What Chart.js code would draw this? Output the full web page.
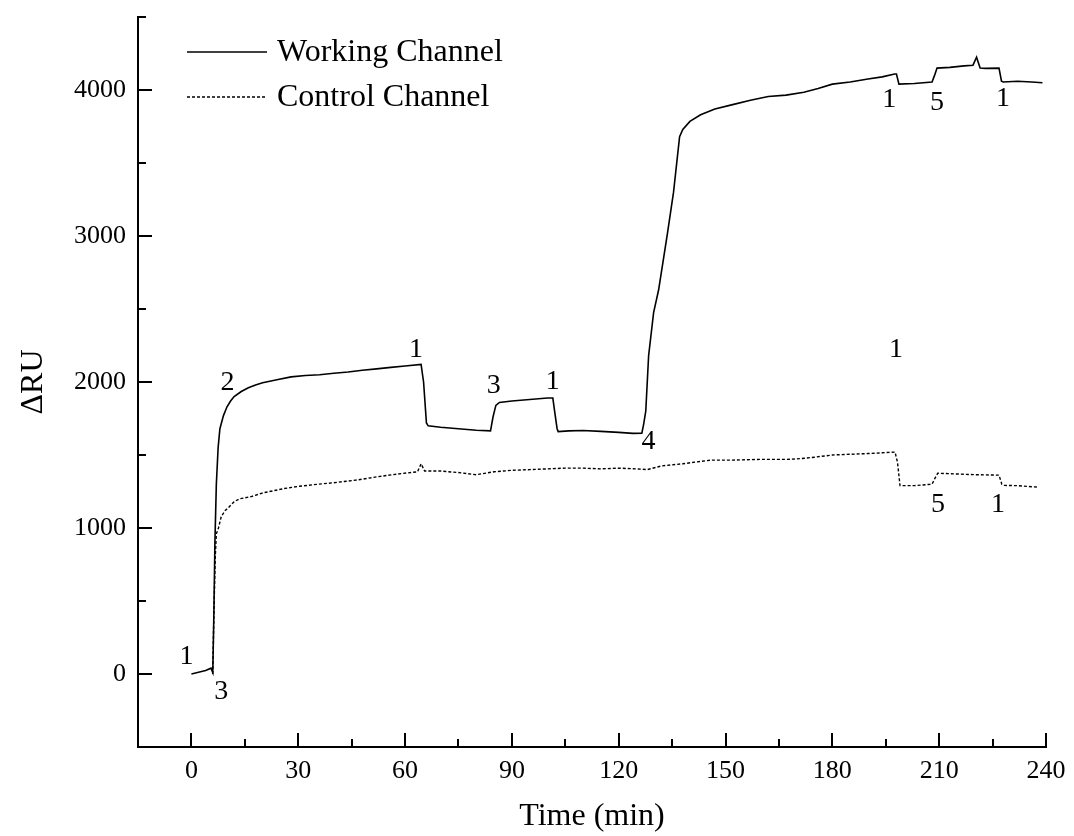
<!DOCTYPE html>
<html>
<head>
<meta charset="utf-8">
<title>Working vs Control Channel</title>
<script src="https://cdn.jsdelivr.net/npm/chart.js@4.4.0/dist/chart.umd.min.js"></script>
<style>
    html, body { margin: 0; padding: 0; background: #fff; }
    #chart { display: block; }
</style>
</head>
<body>
<canvas id="chart" width="1074" height="836"></canvas>
<script>
// time in minutes, response in RU
const workingTime = [0, 2, 4, 5.5, 6, 6.3, 6.6, 7, 7.5, 8, 9, 10, 11, 12, 14, 16, 18, 20, 24, 28, 32, 36, 40, 44, 48, 52, 56, 60, 64.5, 65.2, 66, 66.5, 70, 75, 80, 84, 84.7, 85.5, 86.5, 90, 95, 100, 101.5, 102, 102.7, 103, 106, 110, 115, 120, 124, 126.5, 127, 127.6, 128.4, 129.8, 131.2, 133.7, 135.4, 137.1, 138, 140, 143, 147, 152, 157, 162, 167, 172, 176, 180, 185, 190, 194, 197.5, 198, 198.7, 203, 208, 208.7, 209.4, 213, 217, 219.5, 220.5, 221.5, 223, 226.8, 227.5, 228, 232, 236, 239];
const workingRU = [0, 12, 24, 40, 10, 400, 900, 1300, 1550, 1680, 1770, 1830, 1870, 1900, 1935, 1960, 1980, 1995, 2015, 2035, 2045, 2050, 2060, 2068, 2080, 2090, 2100, 2110, 2120, 2000, 1720, 1700, 1690, 1680, 1670, 1665, 1760, 1840, 1860, 1870, 1880, 1890, 1890, 1800, 1680, 1660, 1665, 1668, 1662, 1655, 1648, 1650, 1710, 1800, 2180, 2475, 2630, 3020, 3300, 3680, 3730, 3785, 3830, 3870, 3900, 3930, 3955, 3965, 3985, 4010, 4040, 4055, 4075, 4090, 4110, 4110, 4040, 4045, 4055, 4100, 4150, 4155, 4165, 4170, 4225, 4150, 4148, 4150, 4060, 4055, 4060, 4055, 4050];

const controlTime = [6, 6.3, 6.7, 7, 7.6, 8.4, 9.5, 10.4, 12, 13.5, 16.8, 20, 26, 30, 35.6, 40, 46.8, 52, 58, 63.5, 64.5, 65.5, 70, 75, 80, 85, 90, 95, 100, 105, 110, 115, 120, 125, 128, 132, 138, 145.8, 152, 160, 167, 171, 175, 180, 185, 190, 194, 197.6, 198.3, 199, 203, 208, 208.8, 209.6, 215, 220, 226.8, 227.6, 228.3, 232, 237.7];
const controlRU = [0, 400, 800, 960, 1000, 1080, 1120, 1140, 1180, 1200, 1215, 1240, 1270, 1285, 1300, 1310, 1330, 1350, 1370, 1385, 1440, 1390, 1390, 1380, 1365, 1385, 1395, 1400, 1405, 1410, 1410, 1405, 1410, 1405, 1400, 1425, 1440, 1465, 1465, 1470, 1470, 1475, 1485, 1500, 1505, 1510, 1515, 1520, 1450, 1290, 1290, 1300, 1340, 1375, 1370, 1365, 1362, 1300, 1292, 1290, 1280];

const xTicks = [0, 30, 60, 90, 120, 150, 180, 210, 240];
const yTicks = [0, 1000, 2000, 3000, 4000];

// injection numbers written next to the curves
const markText = ["1", "3", "2", "1", "3", "1", "4", "1", "5", "1", "1", "5", "1"];
const markTime = [-1.4, 8.4, 10.1, 63.1, 84.9, 101.5, 128.4, 196, 209.4, 227.9, 197.9, 209.7, 226.5];
const markRU = [116, -123, 1993, 2219, 1973, 2000, 1589, 3932, 3911, 3938, 2219, 1158, 1158];

const serif = "'Liberation Serif', 'Times New Roman', serif";

const toPoints = (xs, ys) => xs.map((x, i) => ({ x: x, y: ys[i] }));

const axisTicks = {
    id: "axisTicks",
    afterDraw(chart) {
        const ctx = chart.ctx;
        const x = chart.scales.x, y = chart.scales.y;
        const area = chart.chartArea;
        ctx.save();
        ctx.strokeStyle = "#000";
        ctx.lineWidth = 2;
        ctx.beginPath();
        xTicks.forEach(v => {
            const px = Math.round(x.getPixelForValue(v));
            ctx.moveTo(px, area.bottom);
            ctx.lineTo(px, area.bottom - 14);
            if (v + 15 < x.max) {
                const mx = Math.round(x.getPixelForValue(v + 15));
                ctx.moveTo(mx, area.bottom);
                ctx.lineTo(mx, area.bottom - 8);
            }
        });
        yTicks.forEach(v => {
            const py = Math.round(y.getPixelForValue(v));
            ctx.moveTo(area.left, py);
            ctx.lineTo(area.left + 14, py);
            const my = Math.round(y.getPixelForValue(v + 500));
            ctx.moveTo(area.left, my);
            ctx.lineTo(area.left + 8, my);
        });
        ctx.stroke();

        ctx.fillStyle = "#000";
        ctx.font = "28px " + serif;
        ctx.textAlign = "center";
        ctx.textBaseline = "middle";
        markText.forEach((t, i) => {
            ctx.fillText(t, x.getPixelForValue(markTime[i]), y.getPixelForValue(markRU[i]));
        });

        // legend in the top left corner of the plot
        const sets = chart.data.datasets;
        ctx.font = "32px " + serif;
        ctx.textAlign = "left";
        sets.forEach((ds, i) => {
            const ly = area.top + 35 + i * 45;
            ctx.beginPath();
            ctx.lineWidth = ds.borderWidth;
            ctx.setLineDash(ds.borderDash || []);
            ctx.moveTo(area.left + 49, ly);
            ctx.lineTo(area.left + 129, ly);
            ctx.stroke();
            ctx.setLineDash([]);
            ctx.fillText(ds.label, area.left + 139, ly + 1);
        });
        ctx.restore();
    }
};

new Chart(document.querySelector("#chart"), {
    type: "scatter",
    data: {
        datasets: [{
            label: "Working Channel",
            data: toPoints(workingTime, workingRU),
            showLine: true,
            borderColor: "#000",
            borderWidth: 1.6,
            pointRadius: 0,
            tension: 0
        }, {
            label: "Control Channel",
            data: toPoints(controlTime, controlRU),
            showLine: true,
            borderColor: "#000",
            borderWidth: 1.4,
            borderDash: [3, 2],
            pointRadius: 0,
            tension: 0
        }]
    },
    options: {
        responsive: false,
        animation: false,
        devicePixelRatio: 1,
        layout: { padding: { top: 17, right: 28, left: 0, bottom: 0 } },
        plugins: {
            legend: { display: false },
            tooltip: { enabled: false }
        },
        scales: {
            x: {
                type: "linear",
                min: -15,
                max: 240,
                afterBuildTicks: s => { s.ticks = xTicks.map(v => ({ value: v })); },
                afterFit: s => { s.height = 89; s.paddingLeft = 0; s.paddingRight = 0; },
                grid: { display: false, drawTicks: false },
                border: { display: true, color: "#000", width: 2 },
                ticks: { color: "#000", font: { family: serif, size: 26 }, padding: 9, maxRotation: 0, callback: v => String(v) },
                title: { display: true, text: "Time (min)", color: "#000", font: { family: serif, size: 32 }, padding: { top: 0, bottom: 0 } }
            },
            y: {
                type: "linear",
                min: -500,
                max: 4500,
                afterBuildTicks: s => { s.ticks = yTicks.map(v => ({ value: v })); },
                afterFit: s => { s.width = 138; s.paddingTop = 0; s.paddingBottom = 0; },
                grid: { display: false, drawTicks: false },
                border: { display: true, color: "#000", width: 2 },
                ticks: { color: "#000", font: { family: serif, size: 26 }, padding: 12, callback: v => String(v) },
                title: { display: true, text: "ΔRU", color: "#000", font: { family: serif, size: 32 }, padding: { top: 14, bottom: 0 } }
            }
        }
    },
    plugins: [axisTicks]
});
</script>
</body>
</html>
